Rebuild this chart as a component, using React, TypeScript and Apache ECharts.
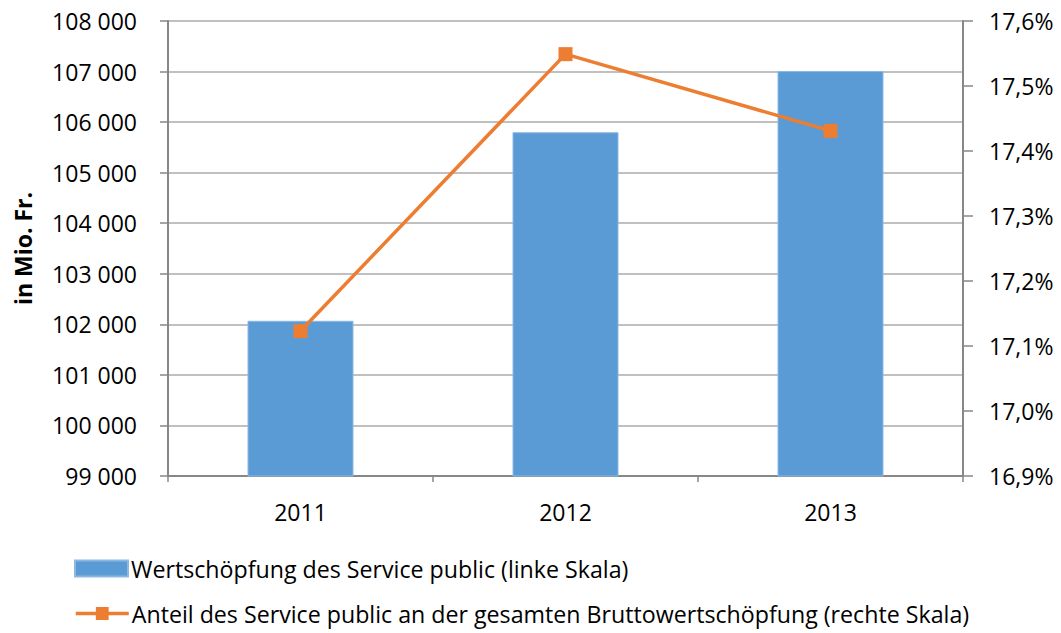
import React, { useEffect, useRef } from "react";
import * as echarts from "echarts";

const categories = ["2011", "2012", "2013"];
const wertschoepfung = [102070, 105800, 107010];
const anteil = [17.123, 17.549, 17.431];
const barName = "Wertschöpfung des Service public (linke Skala)";
const lineName = "Anteil des Service public an der gesamten Bruttowertschöpfung (rechte Skala)";
const leftAxisName = "in Mio. Fr.";

const FONT = "'Open Sans', Lato, sans-serif";

export default function App() {
  const ref = useRef<HTMLDivElement>(null);
  useEffect(() => {
    if (!ref.current) return;
    const chart = echarts.init(ref.current, null, { renderer: "svg" });
    const legendBase = {
      orient: "horizontal",
      left: 74,
      padding: 0,
      itemWidth: 53,
      itemHeight: 16,
      lineStyle: { width: 3.5 },
      textStyle: { fontFamily: FONT, fontSize: 23.2, color: "#000", padding: [0, 0, 0, -2] },
    };
    chart.setOption({
      animation: false,
      backgroundColor: "#ffffff",
      textStyle: { fontFamily: FONT, color: "#000" },
      grid: { left: 168, right: 98, top: 21, bottom: 157, containLabel: false },
      legend: [
        { ...legendBase, top: 557, data: [{ name: barName, icon: "rect" }] },
        { ...legendBase, top: 602, data: [{ name: lineName }] },
      ],
      xAxis: {
        type: "category",
        data: categories,
        axisLine: { lineStyle: { color: "#878787", width: 2 } },
        axisTick: { show: true, alignWithLabel: false, length: 6, lineStyle: { color: "#878787", width: 1.5 } },
        axisLabel: { fontSize: 23, color: "#000", margin: 24, fontFamily: FONT },
      },
      yAxis: [
        {
          type: "value",
          min: 99000,
          max: 108000,
          interval: 1000,
          name: leftAxisName,
          nameLocation: "middle",
          nameGap: 134,
          nameRotate: 90,
          nameTextStyle: { fontSize: 23, fontWeight: "bold", color: "#000", fontFamily: FONT },
          axisLine: { show: true, lineStyle: { color: "#878787", width: 2 } },
          axisTick: { show: true, length: 8, lineStyle: { color: "#878787", width: 1.5 } },
          splitLine: { lineStyle: { color: "#ababab", width: 1.5 } },
          axisLabel: {
            fontSize: 23,
            color: "#000",
            margin: 31,
            fontFamily: FONT,
            formatter: (v: number) => {
              const s = String(Math.round(v));
              return s.slice(0, s.length - 3) + " " + s.slice(-3);
            },
          },
        },
        {
          type: "value",
          min: 16.9,
          max: 17.6,
          interval: 0.1,
          position: "right",
          axisLine: { show: true, lineStyle: { color: "#878787", width: 2 } },
          axisTick: { show: true, length: 10, lineStyle: { color: "#878787", width: 1.5 } },
          splitLine: { show: false },
          axisLabel: {
            fontSize: 23,
            color: "#000",
            margin: 26,
            fontFamily: FONT,
            formatter: (v: number) => v.toFixed(1).replace(".", ",") + "%",
          },
        },
      ],
      series: [
        {
          name: barName,
          type: "bar",
          data: wertschoepfung,
          barWidth: "40%",
          itemStyle: { color: "#5b9bd5", borderColor: "#8cb8e2", borderWidth: 1 },
          yAxisIndex: 0,
        },
        {
          name: lineName,
          type: "line",
          data: anteil,
          yAxisIndex: 1,
          symbol: "rect",
          symbolSize: 14,
          lineStyle: { color: "#ed7d31", width: 3.5 },
          itemStyle: { color: "#ed7d31" },
        },
      ],
    });
    return () => chart.dispose();
  }, []);
  return <div ref={ref} style={{ width: 1061, height: 633, position: "absolute", left: 0, top: 0 }} />;
}
